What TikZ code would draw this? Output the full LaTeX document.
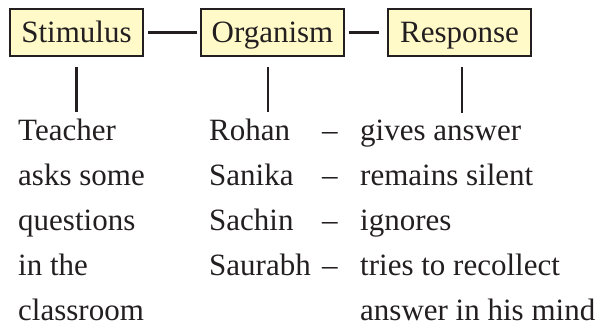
\documentclass[tikz,border=0pt]{standalone}
\usepackage{fontspec}
\setmainfont{Liberation Serif}
\usetikzlibrary{positioning}
\definecolor{boxfill}{RGB}{255,250,200}
\definecolor{ink}{RGB}{35,31,32}
\tikzset{
  srbox/.style={draw=ink,fill=boxfill,line width=1.8pt,minimum width=143pt,minimum height=47pt,inner sep=0pt,text height=21pt,text depth=0pt},
  link/.style={draw=ink,line width=2.8pt},
  col/.style={anchor=base west,inner sep=0pt,align=left}
}
\newcommand{\bigfont}{\fontsize{31}{45}\selectfont}

\begin{document}
\begin{tikzpicture}[x=1pt,y=1pt,font=\bigfont,text=ink]
\useasboundingbox (0,0) rectangle (600,332);
% the three boxes
\node[srbox,minimum width=133pt] (stim) at (76.5,299.5) {Stimulus};
\node[srbox] (org) at (272.5,299.5) {Organism};
\node[srbox] (resp) at (459.5,299.5) {Response};
% text columns (base = last line)
\node[col] (teach) at (18,11) {Teacher\\asks some\\questions\\in the\\classroom};
\node[col] (names) at (209,56) {Rohan\\Sanika\\Sachin\\Saurabh};
\node[col] (dashes) at (322,56) {–\\–\\–\\–};
\node[col] (acts) at (360,11) {gives answer\\remains silent\\ignores\\tries to recollect\\answer in his mind};
% links
\draw[link,shorten <=4pt,shorten >=3pt] (stim.east) -- (org.west);
\draw[link,shorten <=4pt,shorten >=8pt] (org.east) -- (resp.west);
\draw[link,shorten <=10pt,shorten >=7pt] (stim.south) -- (stim.south |- teach.north);
\draw[link,shorten <=10pt,shorten >=7pt] ([xshift=-4.5pt]org.south) -- ([xshift=-4.5pt]org.south |- names.north);
\draw[link,shorten <=10pt,shorten >=7pt] ([xshift=2.5pt]resp.south) -- ([xshift=2.5pt]resp.south |- acts.north);
\end{tikzpicture}
\end{document}
